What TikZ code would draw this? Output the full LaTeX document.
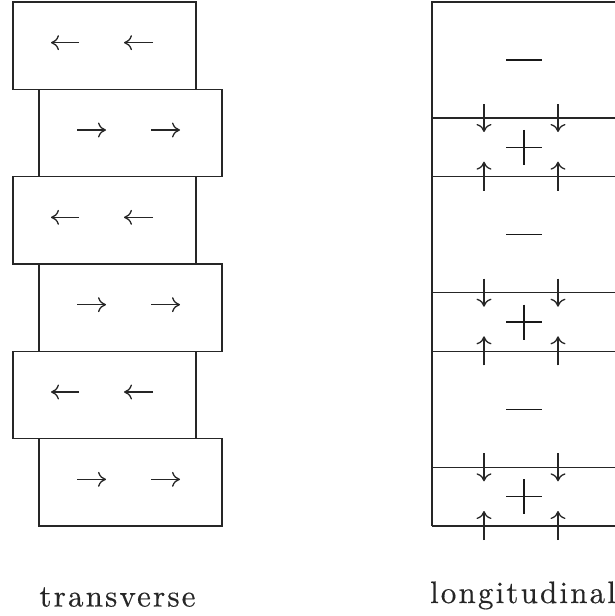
\documentclass[tikz,border=0pt]{standalone}
\usepackage{fontspec}
\usetikzlibrary{arrows.meta}
\newfontfamily\labfont{lmroman10-regular.otf}[LetterSpace=7,FakeBold=0.4]
\tikzset{
  ln/.style={line width=1.3pt, draw=black!85},
  box/.style={ln, rectangle, inner sep=0pt, minimum width=183pt, minimum height=87.3pt},
  arr/.style={ln, -{Computer Modern Rightarrow[length=8pt,width=15pt]}},
  sgn/.style={line width=1.5pt, draw=black!90},
  lab/.style={inner sep=0pt, anchor=base, text=black!85, font=\labfont\fontsize{31}{36}\selectfont}
}
\begin{document}
\begin{tikzpicture}[x=1pt,y=-1pt]
\useasboundingbox (0,0) rectangle (615,616);
% transverse stack
\foreach \i in {0,1,2} {
  \pgfmathsetmacro{\ya}{2+174.67*\i+43.67}
  \pgfmathsetmacro{\yb}{2+174.67*\i+131}
  \node[box] (L\i) at (104.5,\ya) {};
  \node[box] (R\i) at (130.5,\yb) {};
  \draw[arr] (79,\ya-3) -- (51,\ya-3);
  \draw[arr] (153,\ya-3) -- (124,\ya-3);
  \draw[arr] (77,\yb-3) -- (106,\yb-3);
  \draw[arr] (151,\yb-3) -- (180,\yb-3);
}
% longitudinal column
\coordinate (tl) at (432,2);
\coordinate (bl) at (432,526);
\coordinate (tr) at (615.6,2);
\coordinate (br) at (615.6,526);
\draw[ln] (bl) -- (tl) -- (tr) -- (br);
\foreach \i in {0,1,2} {
  \pgfmathsetmacro{\ya}{2+174.67*\i+116}
  \pgfmathsetmacro{\yb}{2+174.67*\i+174.67}
  \pgfmathsetmacro{\ym}{2+174.67*\i+58}
  \pgfmathsetmacro{\yp}{(\ya+\yb)/2}
  \draw[ln] (432,\ya) -- (615.6,\ya);
  \draw[ln] (432,\yb) -- (615.6,\yb);
  \draw[sgn] (506,\ym) -- (542,\ym);
  \draw[sgn] (506,\yp) -- (542,\yp);
  \draw[sgn] (524,\yp-17.5) -- (524,\yp+17.5);
  \draw[arr] (484,\ya-14) -- (484,\ya+14);
  \draw[arr] (558,\ya-14) -- (558,\ya+14);
  \draw[arr] (484,\yb+14) -- (484,\yb-15);
  \draw[arr] (558,\yb+14) -- (558,\yb-15);
}
\node[lab] (tlab) at (117.5,606.5) {transverse};
\node[lab] (llab) at (523,603) {longitudinal};
\end{tikzpicture}
\end{document}
